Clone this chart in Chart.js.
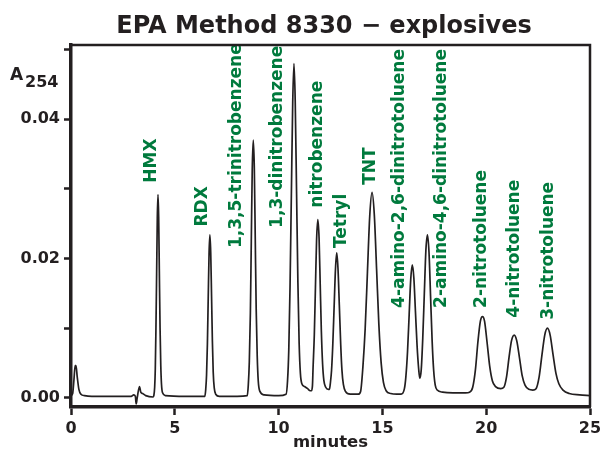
<!DOCTYPE html>
<html>
<head>
<meta charset="utf-8">
<script src="https://cdn.jsdelivr.net/npm/chart.js@4.4.1/dist/chart.umd.min.js"></script>
<style>
  html, body { margin: 0; padding: 0; background: #fff; }
  #wrap { width: 600px; height: 451px; position: relative; }
</style>
</head>
<body>
<div id="wrap"><canvas id="chrom"></canvas></div>
<script>
// trace: retention time (min) / absorbance at 254 nm
const times = [
  0.00, 0.08, 0.14, 0.20, 0.24, 0.30, 0.38, 0.48, 0.65, 1.00, 2.00, 2.90,
  3.02, 3.10, 3.14, 3.19, 3.30, 3.36, 3.45, 3.60, 3.95,
  3.99, 4.03, 4.06, 4.09, 4.125, 4.157, 4.19, 4.223, 4.255, 4.29, 4.325, 4.36, 4.41, 4.55, 5.50,
  6.45, 6.49, 6.53, 6.57, 6.61, 6.65, 6.69, 6.73, 6.77, 6.81, 6.85, 6.90, 6.97, 7.15, 8.00,
  8.49, 8.54, 8.59, 8.64, 8.685, 8.73, 8.78, 8.83, 8.875, 8.92, 8.97, 9.02, 9.10, 9.30, 10.00,
  10.36, 10.43, 10.49, 10.55, 10.615, 10.68, 10.74, 10.80, 10.865, 10.93, 10.99, 11.05, 11.12, 11.25, 11.40, 11.52,
  11.58, 11.63, 11.66, 11.72, 11.775, 11.83, 11.89, 11.95, 12.005, 12.06, 12.12, 12.18, 12.27, 12.40,
  12.45, 12.49, 12.55, 12.61, 12.675, 12.74, 12.80, 12.86, 12.925, 12.99, 13.05, 13.12, 13.22, 13.45, 13.84,
  13.95, 14.06, 14.17, 14.28, 14.39, 14.50, 14.61, 14.72, 14.83, 14.94, 15.05, 15.18, 15.40, 15.70,
  15.90, 16.06, 16.13, 16.21, 16.29, 16.365, 16.44, 16.515, 16.59, 16.67, 16.745, 16.80, 16.87, 16.945,
  17.02, 17.095, 17.17, 17.245, 17.32, 17.395, 17.47, 17.545, 17.64, 17.90, 18.40, 19.00,
  19.20, 19.35, 19.48, 19.60, 19.72, 19.82, 19.92, 20.04, 20.17, 20.30, 20.45, 20.70,
  20.85, 20.98, 21.10, 21.22, 21.35, 21.47, 21.60, 21.73, 21.87, 22.05, 22.25,
  22.40, 22.55, 22.68, 22.82, 22.95, 23.08, 23.22, 23.36, 23.50, 23.70, 24.00, 24.50, 25.00
];
const absorb = [
  0.0003, 0.0006, 0.0025, 0.0046, 0.0046, 0.0030, 0.0012, 0.0005, 0.0003, 0.0002, 0.0002, 0.0002,
  0.0004, 0.0002, -0.0009, 0.0000, 0.0016, 0.0008, 0.0006, 0.0003, 0.0001,
  0.0003, 0.0015, 0.0041, 0.0096, 0.0178, 0.0258, 0.0292, 0.0260, 0.0182, 0.0100, 0.0046, 0.0019, 0.0007, 0.0003, 0.0002,
  0.0002, 0.0012, 0.0033, 0.0077, 0.0143, 0.0207, 0.0234, 0.0209, 0.0147, 0.0082, 0.0037, 0.0014, 0.0005, 0.0002, 0.0002,
  0.0003, 0.0018, 0.0052, 0.0121, 0.0225, 0.0327, 0.0370, 0.0330, 0.0230, 0.0128, 0.0060, 0.0024, 0.0009, 0.0004, 0.0003,
  0.0005, 0.0024, 0.0068, 0.0158, 0.0292, 0.0424, 0.0480, 0.0427, 0.0296, 0.0165, 0.0078, 0.0035, 0.0020, 0.0016, 0.0013, 0.0010,
  0.0010, 0.0017, 0.0043, 0.0090, 0.0159, 0.0227, 0.0256, 0.0229, 0.0162, 0.0095, 0.0048, 0.0025, 0.0015, 0.0012,
  0.0012, 0.0020, 0.0039, 0.0076, 0.0131, 0.0185, 0.0208, 0.0186, 0.0133, 0.0078, 0.0040, 0.0019, 0.0009, 0.0005, 0.0005,
  0.0009, 0.0044, 0.0099, 0.0181, 0.0261, 0.0295, 0.0263, 0.0185, 0.0105, 0.0050, 0.0022, 0.0010, 0.0006, 0.0005,
  0.0005, 0.0013, 0.0030, 0.0066, 0.0120, 0.0170, 0.0191, 0.0172, 0.0125, 0.0075, 0.0042, 0.0028, 0.0040, 0.0086,
  0.0150, 0.0212, 0.0234, 0.0209, 0.0146, 0.0082, 0.0039, 0.0018, 0.0011, 0.0008, 0.0007, 0.0007,
  0.0008, 0.0015, 0.0040, 0.0080, 0.0110, 0.01165, 0.0110, 0.0080, 0.0045, 0.0024, 0.0016, 0.0013,
  0.0015, 0.0030, 0.0058, 0.0082, 0.0090, 0.0082, 0.0058, 0.0032, 0.0018, 0.0012, 0.0011,
  0.0013, 0.0030, 0.0060, 0.0090, 0.0100, 0.0090, 0.0062, 0.0035, 0.0020, 0.0011, 0.0006, 0.0004, 0.0003
];

// peak names and where their labels sit (minutes, absorbance at the foot of the text)
const peakNames = ['HMX', 'RDX', '1,3,5-trinitrobenzene', '1,3-dinitrobenzene', 'nitrobenzene', 'Tetryl',
  'TNT', '4-amino-2,6-dinitrotoluene', '2-amino-4,6-dinitrotoluene', '2-nitrotoluene', '4-nitrotoluene', '3-nitrotoluene'];
const labelTimes = [3.89, 6.35, 7.99, 9.97, 11.90, 13.05, 14.44, 15.85, 17.86, 19.79, 21.39, 22.99];
const labelBase = [0.0309, 0.0246, 0.0215, 0.0244, 0.0273, 0.0215, 0.0306, 0.0129, 0.0129, 0.0129, 0.0115, 0.0112];

const xTicks = [0, 5, 10, 15, 20, 25];
const yTicks = [0, 0.01, 0.02, 0.03, 0.04, 0.05];
const yLabelled = [0, 0.02, 0.04];

const ink = '#231f20';
const green = '#007a3d';
const fam = '"DejaVu Sans", sans-serif';

const decor = {
  id: 'decor',
  afterDraw(chart) {
    const ctx = chart.ctx;
    const a = chart.chartArea;
    ctx.save();
    // top and right frame lines
    ctx.strokeStyle = ink;
    ctx.lineWidth = 2.5;
    ctx.beginPath();
    ctx.moveTo(a.left, a.top);
    ctx.lineTo(a.right, a.top);
    ctx.lineTo(a.right, a.bottom);
    ctx.stroke();

    ctx.fillStyle = ink;
    ctx.textBaseline = 'alphabetic';
    ctx.textAlign = 'center';
    ctx.font = 'bold 24px ' + fam;
    ctx.fillText('EPA Method 8330 \u2212 explosives', 324, 33);

    ctx.textAlign = 'left';
    ctx.font = 'bold 17px ' + fam;
    ctx.fillText('A', 10, 80);
    ctx.font = 'bold 16px ' + fam;
    ctx.fillText('254', 25, 87);
    ctx.restore();
  },
  afterDatasetsDraw(chart) {
    const ctx = chart.ctx;
    const xs = chart.scales.x, ys = chart.scales.y;
    ctx.save();
    ctx.fillStyle = green;
    ctx.font = 'bold 17px ' + fam;
    ctx.textAlign = 'left';
    ctx.textBaseline = 'middle';
    peakNames.forEach((name, i) => {
      ctx.save();
      ctx.translate(xs.getPixelForValue(labelTimes[i]), ys.getPixelForValue(labelBase[i]));
      ctx.rotate(-Math.PI / 2);
      ctx.fillText(name, 0, 0);
      ctx.restore();
    });
    ctx.restore();
  }
};

new Chart(document.getElementById('chrom'), {
  type: 'line',
  data: {
    datasets: [{
      data: times.map((t, i) => ({ x: t, y: absorb[i] })),
      borderColor: ink,
      borderWidth: 1.7,
      pointRadius: 0,
      fill: false,
      cubicInterpolationMode: 'monotone'
    }]
  },
  options: {
    responsive: true,
    maintainAspectRatio: false,
    animation: false,
    layout: { autoPadding: false, padding: { left: 0, right: 10, top: 45, bottom: 0 } },
    plugins: { legend: { display: false }, title: { display: false }, tooltip: { enabled: false } },
    scales: {
      x: {
        type: 'linear',
        min: 0,
        max: 25,
        afterBuildTicks: s => { s.ticks = xTicks.map(v => ({ value: v })); },
        afterFit: s => { s.height = 44; s.paddingLeft = 0; s.paddingRight = 0; },
        ticks: { color: ink, font: { family: fam, weight: 'bold', size: 16 }, padding: 4, maxRotation: 0 },
        grid: { drawOnChartArea: false, drawTicks: true, tickLength: 8, tickWidth: 2.5, tickColor: ink },
        border: { display: true, width: 3.5, color: ink },
        title: { display: true, text: 'minutes', color: ink, font: { family: fam, weight: 'bold', size: 16.5, lineHeight: 1 }, padding: 0 }
      },
      y: {
        min: -0.001336,
        max: 0.05068,
        afterBuildTicks: s => { s.ticks = yTicks.map(v => ({ value: v })); },
        afterFit: s => { s.width = 71; s.paddingTop = 0; s.paddingBottom = 0; },
        ticks: {
          color: ink,
          font: { family: fam, weight: 'bold', size: 16 },
          padding: 4,
          callback: v => yLabelled.includes(v) ? v.toFixed(2) : ''
        },
        grid: { drawOnChartArea: false, drawTicks: true, tickLength: 7, tickWidth: 2.5, tickColor: ink },
        border: { display: true, width: 3.5, color: ink }
      }
    }
  },
  plugins: [decor]
});
</script>
</body>
</html>
